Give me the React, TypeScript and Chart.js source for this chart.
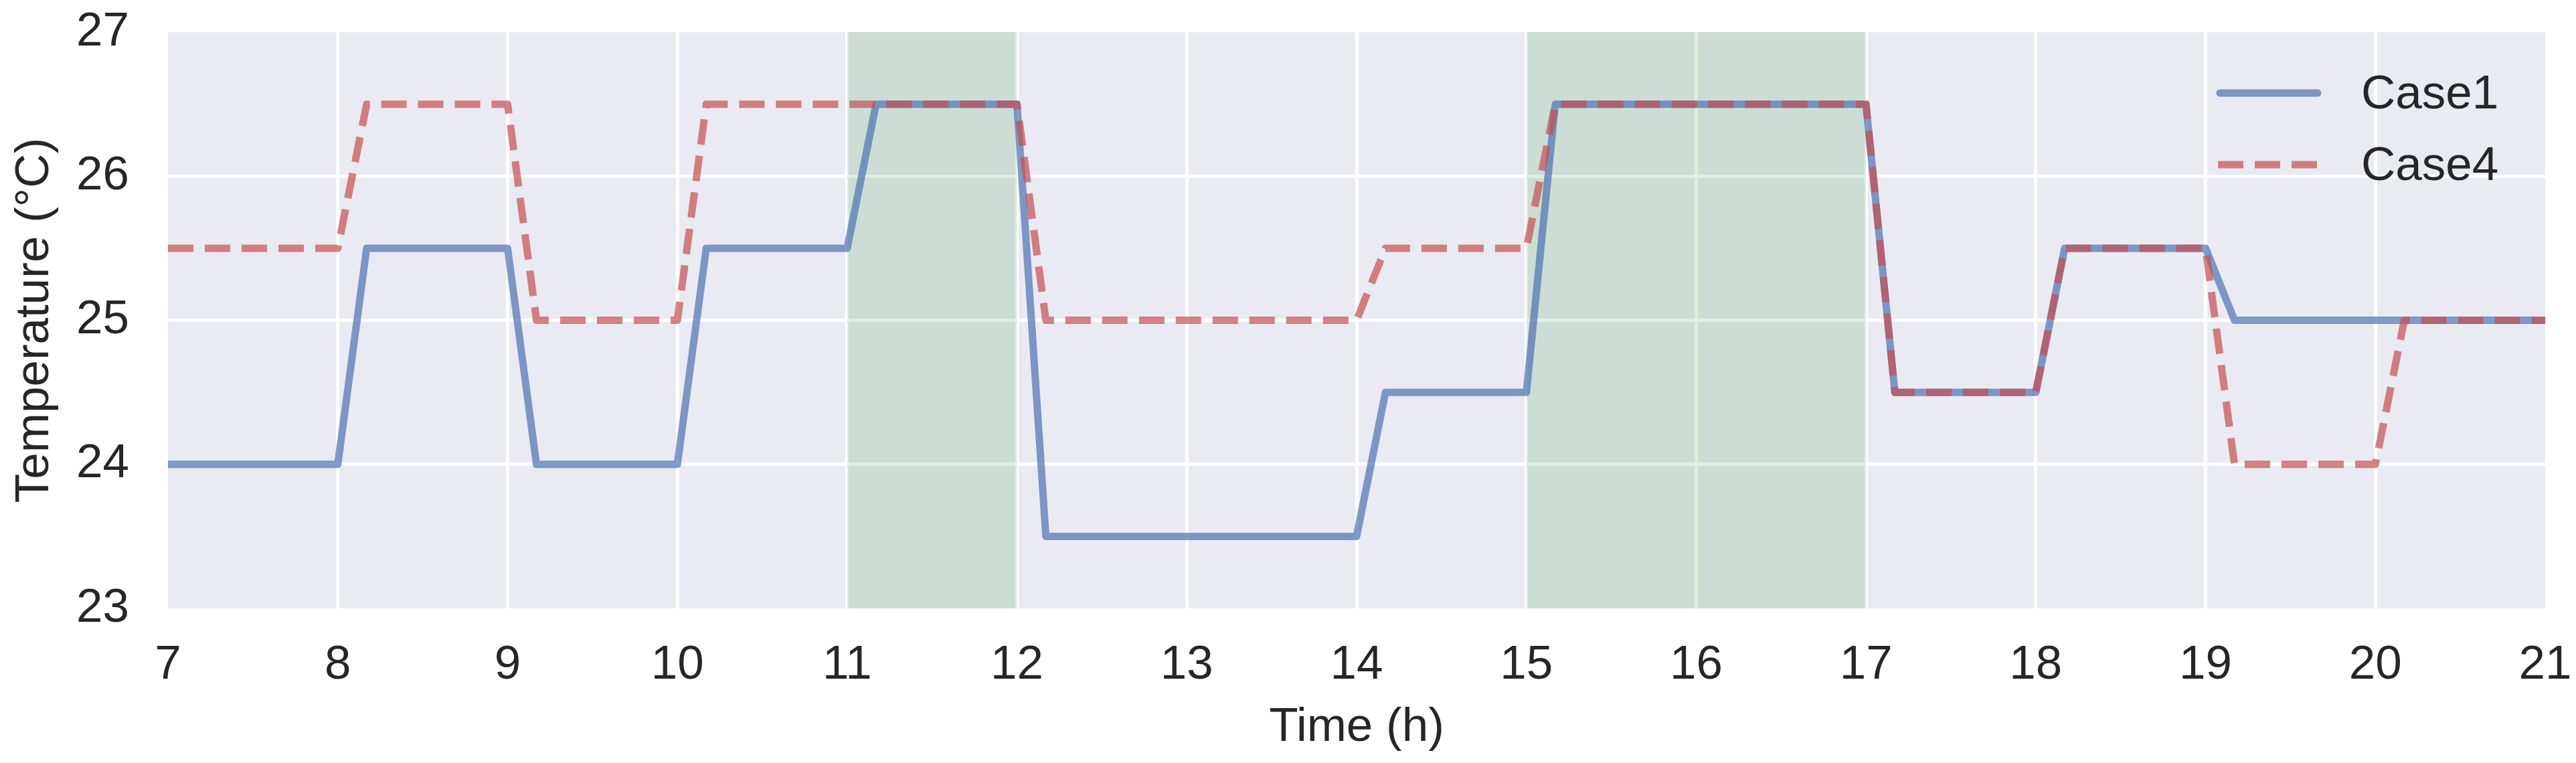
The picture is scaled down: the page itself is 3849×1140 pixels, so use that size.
import React, { useEffect, useRef } from "react";
import { Chart, registerables } from "chart.js";

Chart.register(...registerables);

// ---- Data ----
const seriesLabels = ["Case1", "Case4"];

const case1Times = [7, 8, 8.17, 9, 9.17, 10, 10.17, 11, 11.17, 12, 12.17, 14, 14.17, 15, 15.17, 17, 17.17, 18, 18.17, 19, 19.17, 21];
const case1Temps = [24, 24, 25.5, 25.5, 24, 24, 25.5, 25.5, 26.5, 26.5, 23.5, 23.5, 24.5, 24.5, 26.5, 26.5, 24.5, 24.5, 25.5, 25.5, 25, 25];

const case4Times = [7, 8, 8.17, 9, 9.17, 10, 10.17, 12, 12.17, 14, 14.17, 15, 15.17, 17, 17.17, 18, 18.17, 19, 19.17, 20, 20.17, 21];
const case4Temps = [25.5, 25.5, 26.5, 26.5, 25, 25, 26.5, 26.5, 25, 25, 25.5, 25.5, 26.5, 26.5, 24.5, 24.5, 25.5, 25.5, 24, 24, 25, 25];

const shadedStarts = [11, 15];
const shadedEnds = [12, 17];

const xMin = 7;
const xMax = 21;
const yMin = 23;
const yMax = 27;

const xTitle = "Time (h)";
const yTitle = "Temperature (°C)";

// ---- Styles ----
const FONT = "'Liberation Sans', Arial, Helvetica, sans-serif";
const TEXT = "#262626";
const FONT_SIZE = 71;
const BG = "#EAEAF2";
const LINE_W = 11;

const bgPlugin = {
  id: "plotBg",
  beforeDraw(chart: any) {
    const { ctx, chartArea } = chart;
    ctx.save();
    ctx.fillStyle = "#ffffff";
    ctx.fillRect(0, 0, chart.width, chart.height);
    ctx.fillStyle = BG;
    ctx.fillRect(chartArea.left, chartArea.top, chartArea.right - chartArea.left, chartArea.bottom - chartArea.top);
    ctx.restore();
  },
};

const shadePlugin = {
  id: "shadeSpans",
  beforeDatasetsDraw(chart: any) {
    const { ctx, chartArea, scales } = chart;
    const x = scales.x;
    ctx.save();
    ctx.fillStyle = "rgba(85,168,104,0.2)";
    shadedStarts.forEach((s, i) => {
      const x0 = x.getPixelForValue(s);
      const x1 = x.getPixelForValue(shadedEnds[i]);
      ctx.fillRect(x0, chartArea.top, x1 - x0, chartArea.bottom - chartArea.top);
    });
    ctx.restore();
  },
};

const legendPlugin = {
  id: "insideLegend",
  afterDatasetsDraw(chart: any) {
    const { ctx, chartArea } = chart;
    ctx.save();
    chart.data.datasets.forEach((ds: any, i: number) => {
      const cy = chartArea.top + 91 + i * 107;
      const x0 = chartArea.right - 486;
      const x1 = chartArea.right - 340;
      ctx.beginPath();
      ctx.strokeStyle = ds.borderColor;
      ctx.lineWidth = ds.borderWidth;
      ctx.setLineDash(ds.borderDash || []);
      ctx.lineCap = ds.borderDash ? "butt" : "round";
      ctx.moveTo(ds.borderDash ? x0 - 3 : x0, cy);
      ctx.lineTo(ds.borderDash ? x1 + 3 : x1, cy);
      ctx.stroke();
      ctx.setLineDash([]);
      ctx.fillStyle = TEXT;
      ctx.font = `${FONT_SIZE}px ${FONT}`;
      ctx.textAlign = "left";
      ctx.textBaseline = "middle";
      ctx.fillText(ds.label, chartArea.right - 275, cy + 3);
    });
    ctx.restore();
  },
};

export default function App() {
  const canvasRef = useRef<HTMLCanvasElement | null>(null);

  useEffect(() => {
    document.body.style.margin = "0";
    const canvas = canvasRef.current;
    if (!canvas) return;

    const chart = new Chart(canvas, {
      type: "line",
      data: {
        datasets: [
          {
            label: seriesLabels[0],
            data: case1Times.map((t, i) => ({ x: t, y: case1Temps[i] })),
            borderColor: "rgba(76,114,176,0.7)",
            borderWidth: LINE_W,
            pointRadius: 0,
            pointHoverRadius: 0,
            borderJoinStyle: "round",
            borderCapStyle: "round",
            tension: 0,
            fill: false,
            order: 2,
          },
          {
            label: seriesLabels[1],
            data: case4Times.map((t, i) => ({ x: t, y: case4Temps[i] })),
            borderColor: "rgba(196,78,82,0.7)",
            borderWidth: LINE_W,
            borderDash: [38, 17],
            pointRadius: 0,
            pointHoverRadius: 0,
            borderJoinStyle: "round",
            borderCapStyle: "butt",
            tension: 0,
            fill: false,
            order: 1,
          },
        ],
      },
      options: {
        responsive: false,
        animation: false,
        devicePixelRatio: 1,
        layout: { padding: 0 },
        plugins: {
          legend: { display: false },
          tooltip: { enabled: false },
        },
        scales: {
          x: {
            type: "linear",
            min: xMin,
            max: xMax,
            ticks: {
              stepSize: 1,
              color: TEXT,
              padding: 43,
              font: { family: FONT, size: FONT_SIZE },
              maxRotation: 0,
            },
            grid: {
              color: (c: any) =>
                c.tick && (c.tick.value === xMin || c.tick.value === xMax) ? "rgba(0,0,0,0)" : "#ffffff",
              lineWidth: 5,
              drawTicks: false,
            },
            border: { display: false },
            title: {
              display: true,
              text: xTitle,
              color: TEXT,
              font: { family: FONT, size: FONT_SIZE },
              padding: { top: 0, bottom: 10 },
            },
            afterFit: (scale: any) => {
              scale.height = 231;
              scale.paddingLeft = 0;
              scale.paddingRight = 46;
              scale.paddingTop = 0;
              scale.paddingBottom = 0;
            },
          },
          y: {
            type: "linear",
            min: yMin,
            max: yMax,
            ticks: {
              stepSize: 1,
              color: TEXT,
              padding: 58,
              font: { family: FONT, size: FONT_SIZE },
            },
            grid: {
              color: (c: any) =>
                c.tick && (c.tick.value === yMin || c.tick.value === yMax) ? "rgba(0,0,0,0)" : "#ffffff",
              lineWidth: 5,
              drawTicks: false,
            },
            border: { display: false },
            title: {
              display: true,
              text: yTitle,
              color: TEXT,
              font: { family: FONT, size: FONT_SIZE },
              padding: { top: 10, bottom: 0 },
            },
            afterFit: (scale: any) => {
              scale.width = 251;
              scale.paddingTop = 48;
              scale.paddingBottom = 0;
              scale.paddingLeft = 0;
              scale.paddingRight = 0;
            },
          },
        },
      },
      plugins: [bgPlugin, shadePlugin, legendPlugin],
    });

    return () => {
      chart.destroy();
    };
  }, []);

  return (
    <div style={{ width: 3849, height: 1140, overflow: "hidden" }}>
      <canvas ref={canvasRef} width={3849} height={1140} style={{ display: "block", width: 3849, height: 1140 }} />
    </div>
  );
}
